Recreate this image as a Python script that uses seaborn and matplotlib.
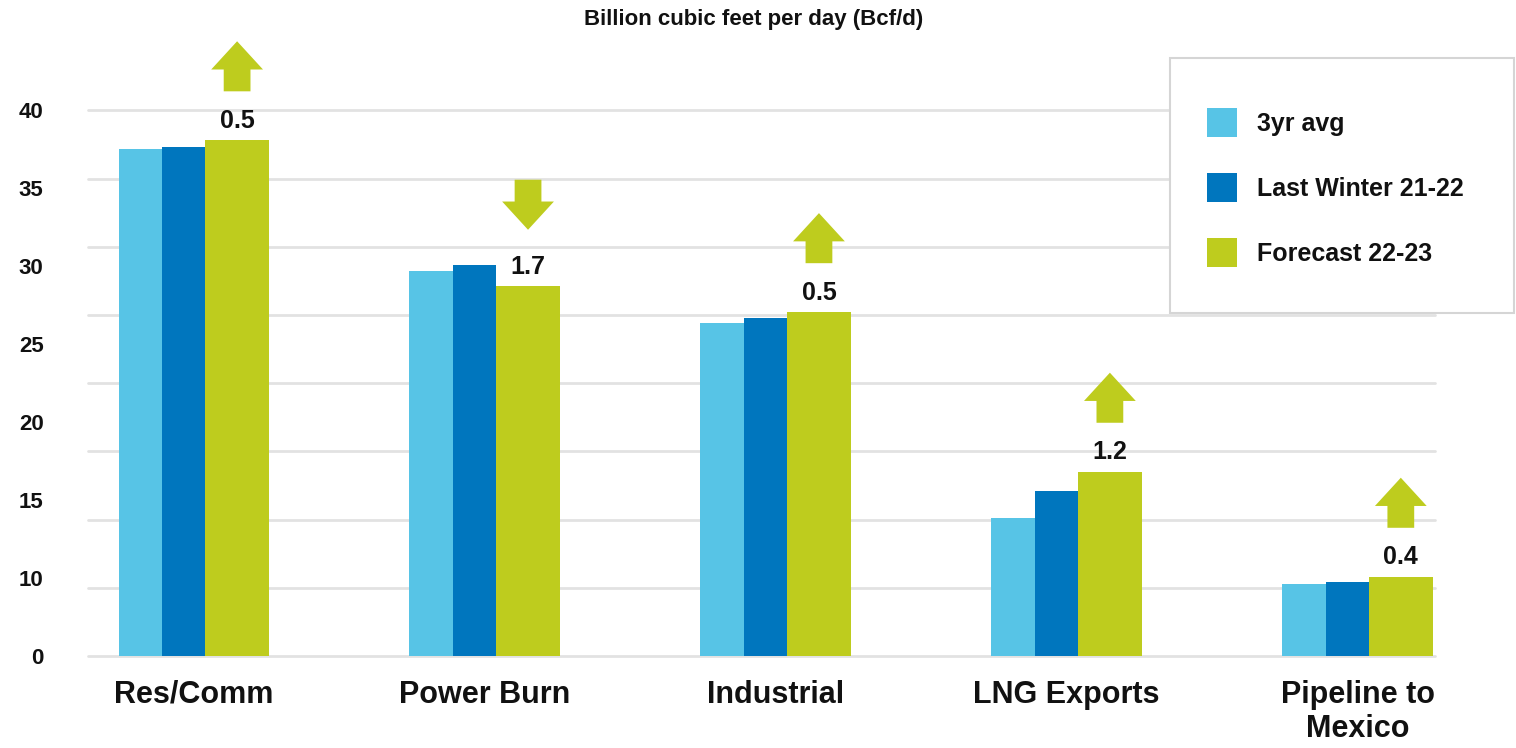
from matplotlib import pyplot as plt
from matplotlib.patches import FancyArrow, Patch, Rectangle
import seaborn as sns
import pandas as pd
import numpy as np

categories = ["Res/Comm", "Power Burn", "Industrial", "LNG Exports", "Pipeline to\nMexico"]
series_names = ["3yr avg", "Last Winter 21-22", "Forecast 22-23"]
avg_3yr = [37.2, 28.2, 24.4, 10.1, 5.3]
last_winter = [37.3, 28.7, 24.8, 12.1, 5.4]
forecast = [37.8, 27.1, 25.2, 13.5, 5.8]
change_labels = ["0.5", "1.7", "0.5", "1.2", "0.4"]
change_dir = ["up", "down", "up", "up", "up"]
ytick_labels = ["0", "10", "15", "20", "25", "30", "35", "40"]

colors = ["#57C4E6", "#0076BE", "#BECC1E"]
arrow_color = "#BECC1E"
text_color = "#111111"

W, H = 1516, 748

sns.set_style("white")
plt.rcParams["font.family"] = ["Liberation Sans", "DejaVu Sans"]
plt.rcParams["text.color"] = text_color
plt.rcParams["xtick.color"] = text_color
plt.rcParams["ytick.color"] = text_color

df = pd.DataFrame({
	"category": categories * 3,
	"series": [s for s in series_names for _ in categories],
	"value": avg_3yr + last_winter + forecast,
})

fig = plt.figure(figsize=(W / 100, H / 100), dpi=100)
ax = fig.add_axes([88 / W, 1 - 656 / H, (1435 - 88) / W, (656 - 1.3) / H])

sns.barplot(data=df, x="category", y="value", hue="series", palette=colors,
			saturation=1, width=0.45, linewidth=0, legend=False, ax=ax)

# forecast bars are wider than the other two in the original
bar_left = [-0.259, -0.1095, 0.0385]
bar_width = [0.1495, 0.148, 0.22]
for h, cont in enumerate(ax.containers):
	for bar in cont:
		i = round(bar.get_x() + bar.get_width() / 2)
		bar.set_x(i + bar_left[h])
		bar.set_width(bar_width[h])

ax.set_xlim(-0.364, 4.266)
ax.set_ylim(0, 48)

# gridlines every 5, labels spread evenly (as in the source graphic)
ax.yaxis.remove_overlapping_locs = False
ax.set_yticks(np.arange(0, 41, 5))
ax.set_yticklabels([])
ax.set_yticks(np.linspace(0, 40, len(ytick_labels)), labels=ytick_labels, minor=True)
ax.yaxis.grid(True, which="major", color="#E2E2E2", lw=2)
for gl in ax.get_ygridlines():
	gl.set_clip_on(False)
ax.set_axisbelow(True)
ax.tick_params(axis="y", which="both", length=0)
ax.tick_params(axis="y", which="minor", pad=32, labelsize=16, labelcolor=text_color)
for t in ax.get_yticklabels(minor=True):
	t.set_fontweight("bold")

ax.tick_params(axis="x", length=0, pad=17, labelsize=22, labelcolor=text_color)
for t in ax.get_xticklabels():
	t.set_fontweight("bold")
ax.set_xlabel("")
ax.set_ylabel("")
sns.despine(ax=ax, left=True, bottom=True)

# change labels and arrows above the forecast bars
arrow_len, head_len = 3.67, 2.07
for i, (v, lab, d) in enumerate(zip(forecast, change_labels, change_dir)):
	xc = i + bar_left[2] + bar_width[2] / 2
	ax.text(xc, v + 1.45, lab, ha="center", va="center", fontsize=18, fontweight="bold")
	if d == "up":
		y0, dy = v + 3.6, arrow_len
	else:
		y0, dy = v + 4.15 + arrow_len, -arrow_len
	ax.add_patch(FancyArrow(xc, y0, 0, dy, width=0.092, head_width=0.178, head_length=head_len,
							length_includes_head=True, color=arrow_color, lw=0, clip_on=False))

fig.text(754 / W, 1 - 19 / H, "Billion cubic feet per day (Bcf/d)", ha="center", va="center",
		 fontsize=16, fontweight="bold")

box = Rectangle((1170 / W, 1 - 313 / H), (1514 - 1170) / W, (313 - 58) / H, transform=fig.transFigure,
				facecolor="white", edgecolor="#D5D5D5", lw=1.5, zorder=2)
fig.add_artist(box)

handles = [Patch(facecolor=c, edgecolor="none") for c in colors]
fig.legend(handles, series_names, loc="upper left", bbox_to_anchor=(1207 / W, 1 - 108 / H),
		   frameon=False, prop={"weight": "bold", "size": 18}, handlelength=1.2, handleheight=1.4,
		   handletextpad=0.8, labelspacing=1.45, borderpad=0, borderaxespad=0)

fig.savefig("out.png", dpi=100)
